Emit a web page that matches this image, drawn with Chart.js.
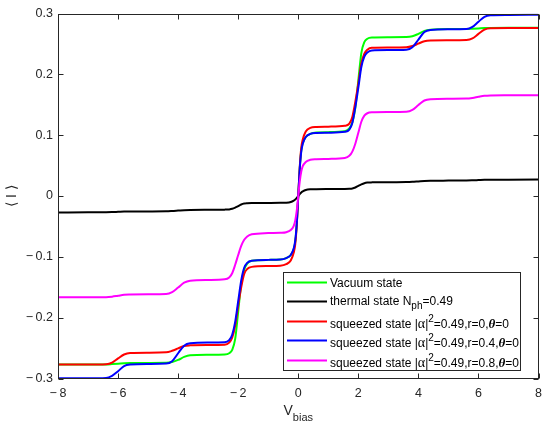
<!DOCTYPE html>
<html>
<head>
<meta charset="utf-8">
<script src="https://cdn.jsdelivr.net/npm/chart.js@4"></script>
<style>
  html, body { margin: 0; padding: 0; background: #fff; }
  #wrap { width: 550px; height: 431px; position: relative; }
</style>
</head>
<body>
<div id="wrap"><canvas id="ivChart"></canvas></div>
<script>
// bias voltage samples (denser around the steps)
const vbias = [
  -8, -7, -6.4, -6.2, -6, -5.8, -5.6, -5,
  -4.4, -4.2, -4, -3.8, -3.6, -3,
  -2.45, -2.3, -2.2, -2.1, -2, -1.9, -1.8, -1.7, -1.55,
  -1, -0.6, -0.4, -0.25, -0.15, -0.1, -0.05,
  0,
  0.05, 0.1, 0.15, 0.25, 0.4, 0.6, 1,
  1.55, 1.7, 1.8, 1.9, 2, 2.1, 2.2, 2.3, 2.45,
  3, 3.6, 3.8, 4, 4.2, 4.4, 5,
  5.6, 5.8, 6, 6.2, 6.4, 7, 8
];

// current <I>
const vacuum = [
  -0.277, -0.277, -0.2768, -0.2763, -0.2757, -0.275, -0.2747, -0.2745,
  -0.2743, -0.273, -0.2695, -0.2645, -0.2618, -0.261,
  -0.2605, -0.2585, -0.253, -0.235, -0.19, -0.145, -0.121, -0.111, -0.1065,
  -0.105, -0.1045, -0.102, -0.097, -0.087, -0.075, -0.046,
  0,
  0.046, 0.075, 0.087, 0.097, 0.102, 0.1045, 0.105,
  0.1065, 0.111, 0.121, 0.145, 0.19, 0.235, 0.253, 0.2585, 0.2605,
  0.261, 0.2612, 0.2625, 0.2665, 0.2715, 0.2735, 0.2745,
  0.2745, 0.275, 0.2755, 0.276, 0.2763, 0.2765, 0.2765
];

const thermal = [
  -0.027, -0.0268, -0.0266, -0.0264, -0.026, -0.0256, -0.0255, -0.0254,
  -0.0252, -0.0247, -0.024, -0.0233, -0.0229, -0.0226,
  -0.0224, -0.022, -0.021, -0.019, -0.0165, -0.014, -0.0125, -0.012, -0.0117,
  -0.0115, -0.0113, -0.011, -0.0098, -0.0075, -0.0058, -0.003,
  0,
  0.003, 0.0058, 0.0075, 0.0098, 0.011, 0.0113, 0.0115,
  0.0117, 0.012, 0.0125, 0.014, 0.0165, 0.019, 0.021, 0.022, 0.0224,
  0.0226, 0.0229, 0.0233, 0.024, 0.0247, 0.0251, 0.0253,
  0.0255, 0.0258, 0.0262, 0.0266, 0.0268, 0.0269, 0.027
];

const squeezedR0 = [
  -0.277, -0.277, -0.2765, -0.274, -0.267, -0.2605, -0.258, -0.2575,
  -0.257, -0.2545, -0.2505, -0.2465, -0.2455, -0.245,
  -0.2445, -0.241, -0.233, -0.213, -0.18, -0.15, -0.128, -0.12, -0.1165,
  -0.115, -0.1145, -0.112, -0.106, -0.093, -0.079, -0.048,
  0,
  0.048, 0.079, 0.093, 0.106, 0.112, 0.1135, 0.114,
  0.1155, 0.119, 0.13, 0.155, 0.185, 0.218, 0.234, 0.2405, 0.2435,
  0.244, 0.2445, 0.2465, 0.2505, 0.2545, 0.2557, 0.256,
  0.2565, 0.259, 0.2665, 0.2735, 0.2757, 0.276, 0.276
];

const squeezedR04 = [
  -0.2995, -0.2995, -0.299, -0.2955, -0.288, -0.2795, -0.277, -0.276,
  -0.2755, -0.2715, -0.2585, -0.246, -0.242, -0.241,
  -0.2405, -0.237, -0.228, -0.207, -0.173, -0.139, -0.118, -0.11, -0.1065,
  -0.105, -0.1045, -0.102, -0.097, -0.086, -0.073, -0.045,
  0,
  0.045, 0.073, 0.086, 0.097, 0.102, 0.1035, 0.104,
  0.1055, 0.109, 0.12, 0.146, 0.178, 0.212, 0.229, 0.236, 0.2393,
  0.24, 0.2405, 0.2445, 0.257, 0.2695, 0.273, 0.274,
  0.2745, 0.278, 0.2865, 0.2945, 0.297, 0.2975, 0.298
];

const squeezedR08 = [
  -0.1665, -0.1665, -0.1663, -0.1655, -0.164, -0.1625, -0.162, -0.1615,
  -0.161, -0.158, -0.1505, -0.1425, -0.1392, -0.138,
  -0.137, -0.134, -0.127, -0.113, -0.097, -0.082, -0.072, -0.0665, -0.063,
  -0.061, -0.0605, -0.0595, -0.056, -0.049, -0.04, -0.024,
  0,
  0.024, 0.04, 0.049, 0.056, 0.0595, 0.0605, 0.061,
  0.0625, 0.066, 0.073, 0.086, 0.104, 0.122, 0.132, 0.136, 0.1375,
  0.138, 0.1385, 0.1415, 0.1495, 0.157, 0.1592, 0.16,
  0.1602, 0.1612, 0.163, 0.1646, 0.1652, 0.1655, 0.1657
];

// axis ticks
const xTicks = [-8, -6, -4, -2, 0, 2, 4, 6, 8];
const yTicks = [-0.3, -0.2, -0.1, 0, 0.1, 0.2, 0.3];

const FONT = '"Liberation Sans", Arial, Helvetica, sans-serif';
const SERIF = '"Liberation Serif", "Times New Roman", serif';
const AXIS = '#262626';

function pts(ys) {
  return vbias.map((x, i) => ({ x: x, y: ys[i] }));
}

// matlab style minus with a little gap
function tickText(v) {
  const s = Math.abs(v) < 1e-9 ? '0' : String(Math.abs(v));
  return v < -1e-9 ? '\u2212\u2009' + s : s;
}

// legend rows, segments: [text, style]
const legendRows = [
  { color: '#00ff00', segs: [['Vacuum state', '']] },
  { color: '#000000', segs: [['thermal state N', ''], ['ph', 'sub'], ['=0.49', '']] },
  { color: '#ff0000', segs: [['squeezed state |', ''], ['\u03b1', 'greek'], ['|', ''], ['2', 'sup'], ['=0.49,r=0,', ''], ['\u03b8', 'greekIt'], ['=0', '']] },
  { color: '#0000ff', segs: [['squeezed state |', ''], ['\u03b1', 'greek'], ['|', ''], ['2', 'sup'], ['=0.49,r=0.4,', ''], ['\u03b8', 'greekIt'], ['=0', '']] },
  { color: '#ff00ff', segs: [['squeezed state |', ''], ['\u03b1', 'greek'], ['|', ''], ['2', 'sup'], ['=0.49,r=0.8,', ''], ['\u03b8', 'greekIt'], ['=0', '']] }
];

function segFont(style, size) {
  if (style === 'sub' || style === 'sup') return Math.round(size * 0.8) + 'px ' + FONT;
  if (style === 'greek') return (size + 2) + 'px ' + SERIF;
  if (style === 'greekIt') return 'italic bold ' + (size + 1) + 'px ' + SERIF;
  return size + 'px ' + FONT;
}

function richWidth(ctx, segs, size) {
  let w = 0;
  segs.forEach(s => { ctx.font = segFont(s[1], size); w += ctx.measureText(s[0]).width; });
  return w;
}

function drawRich(ctx, segs, x, y, size) {
  ctx.textAlign = 'left';
  ctx.textBaseline = 'alphabetic';
  segs.forEach(s => {
    ctx.font = segFont(s[1], size);
    let dy = 0;
    if (s[1] === 'sub') dy = size * 0.4;
    if (s[1] === 'sup') dy = -size * 0.5;
    ctx.fillText(s[0], x, y + dy);
    x += ctx.measureText(s[0]).width;
  });
}

const frame = {
  id: 'frame',
  afterDatasetsDraw(chart) {
    const ctx = chart.ctx;
    const a = chart.chartArea;
    const sx = chart.scales.x, sy = chart.scales.y;
    const L = Math.round(a.left) + 0.5, R = Math.round(a.right) - 0.5;
    const T = Math.round(a.top) + 0.5, B = Math.round(a.bottom) - 0.5;
    ctx.save();
    ctx.strokeStyle = AXIS;
    ctx.lineWidth = 1;
    ctx.strokeRect(L, T, R - L, B - T);

    // ticks pointing inwards on all four sides
    ctx.beginPath();
    xTicks.forEach(v => {
      const p = Math.round(sx.getPixelForValue(v)) + 0.5;
      ctx.moveTo(p, B); ctx.lineTo(p, B - 5);
      ctx.moveTo(p, T); ctx.lineTo(p, T + 5);
    });
    yTicks.forEach(v => {
      const p = Math.round(sy.getPixelForValue(v)) + 0.5;
      ctx.moveTo(L, p); ctx.lineTo(L + 5, p);
      ctx.moveTo(R, p); ctx.lineTo(R - 5, p);
    });
    ctx.stroke();

    // axis titles
    ctx.fillStyle = AXIS;
    const xt = [['V', ''], ['bias', 'sub']];
    const cx = sx.getPixelForValue(0);
    drawRich(ctx, xt, cx - richWidth(ctx, xt, 14) / 2, 415, 14);

    ctx.save();
    ctx.translate(12, sy.getPixelForValue(0));
    ctx.rotate(-Math.PI / 2);
    ctx.font = '14px ' + FONT;
    ctx.textAlign = 'center';
    ctx.textBaseline = 'middle';
    ctx.fillText('\u27e8 I \u27e9', 0, 0);
    ctx.restore();

    // legend box
    const box = { l: 283.5, t: 272.5, r: 520.5, b: 370.5 };
    ctx.fillStyle = '#ffffff';
    ctx.fillRect(box.l, box.t, box.r - box.l, box.b - box.t);
    ctx.strokeStyle = AXIS;
    ctx.strokeRect(box.l, box.t, box.r - box.l, box.b - box.t);
    const lineY = [282.5, 301.5, 321.5, 340.5, 360.5];
    const baseY = [286.5, 304.5, 327.5, 346.5, 366.5];
    legendRows.forEach((row, i) => {
      ctx.strokeStyle = row.color;
      ctx.lineWidth = 2;
      ctx.beginPath();
      ctx.moveTo(287, lineY[i]);
      ctx.lineTo(327, lineY[i]);
      ctx.stroke();
      ctx.fillStyle = '#000';
      drawRich(ctx, row.segs, 330, baseY[i], 12);
    });
    ctx.restore();
  }
};

function series(label, ys, color, order) {
  return {
    label: label,
    data: pts(ys),
    borderColor: color,
    backgroundColor: color,
    borderWidth: 2,
    pointRadius: 0,
    fill: false,
    cubicInterpolationMode: 'monotone',
    order: order
  };
}

new Chart(document.getElementById('ivChart'), {
  type: 'line',
  data: {
    datasets: [
      series('Vacuum state', vacuum, '#00ff00', 5),
      series('thermal state Nph=0.49', thermal, '#000000', 4),
      series('squeezed state |\u03b1|2=0.49,r=0,\u03b8=0', squeezedR0, '#ff0000', 3),
      series('squeezed state |\u03b1|2=0.49,r=0.4,\u03b8=0', squeezedR04, '#0000ff', 2),
      series('squeezed state |\u03b1|2=0.49,r=0.8,\u03b8=0', squeezedR08, '#ff00ff', 1)
    ]
  },
  options: {
    responsive: true,
    maintainAspectRatio: false,
    animation: false,
    layout: { padding: { top: 13.5, right: 10, bottom: 0, left: 0 } },
    scales: {
      x: {
        type: 'linear',
        min: -8,
        max: 8,
        grid: { display: false, drawTicks: false },
        border: { display: false },
        afterBuildTicks: scale => { scale.ticks = xTicks.map(v => ({ value: v })); },
        afterFit: scale => { scale.height = 52.5; },
        ticks: {
          padding: 8,
          maxRotation: 0,
          color: AXIS,
          font: { family: FONT, size: 12.5 },
          callback: v => tickText(v)
        }
      },
      y: {
        min: -0.3,
        max: 0.3,
        grid: { display: false, drawTicks: false },
        border: { display: false },
        afterBuildTicks: scale => { scale.ticks = yTicks.map(v => ({ value: v })); },
        afterFit: scale => { scale.width = 58; },
        ticks: {
          padding: 5,
          color: AXIS,
          font: { family: FONT, size: 12.5 },
          callback: v => tickText(Math.round(v * 10) / 10)
        }
      }
    },
    plugins: {
      legend: { display: false },
      tooltip: { enabled: false }
    }
  },
  plugins: [frame]
});
</script>
</body>
</html>
